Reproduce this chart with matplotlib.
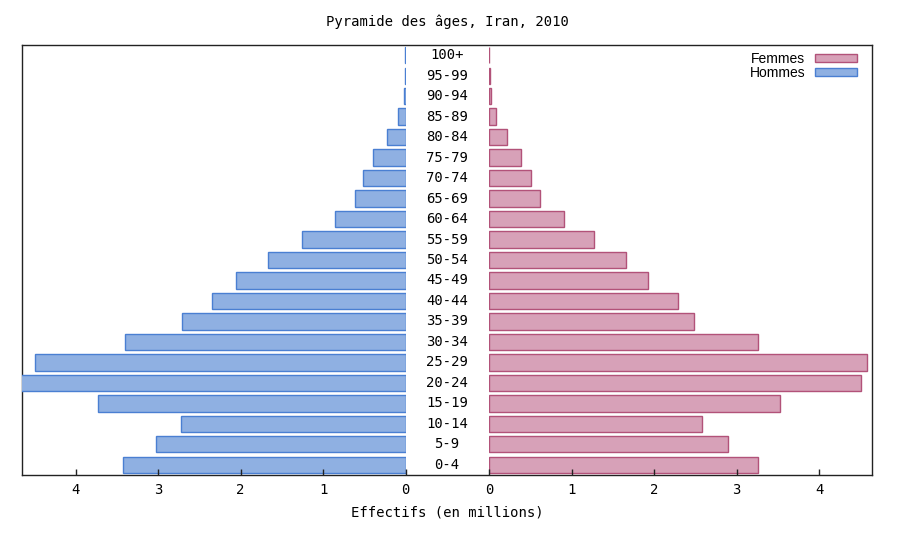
import matplotlib.pyplot as plt
import numpy as np

# Données : population par tranche d'âge (en millions)
ages = ["0-4", "5-9", "10-14", "15-19", "20-24", "25-29", "30-34", "35-39",
        "40-44", "45-49", "50-54", "55-59", "60-64", "65-69", "70-74",
        "75-79", "80-84", "85-89", "90-94", "95-99", "100+"]
hommes = [3.42, 3.02, 2.72, 3.73, 4.70, 4.49, 3.40, 2.71, 2.35, 2.05, 1.67,
          1.26, 0.85, 0.61, 0.51, 0.40, 0.23, 0.085, 0.015, 0.004, 0.001]
femmes = [3.26, 2.89, 2.58, 3.52, 4.51, 4.58, 3.26, 2.48, 2.29, 1.92, 1.66,
          1.27, 0.90, 0.62, 0.51, 0.38, 0.21, 0.085, 0.015, 0.005, 0.001]
ticks = [0, 1, 2, 3, 4]

bleu, bleu_bord = "#8fb0e2", "#4a7fd2"
rose, rose_bord = "#d7a1b8", "#b25279"
mono = "DejaVu Sans Mono"

fig = plt.figure(figsize=(9, 5.4), dpi=100)
W, H = 900, 540
bas = (H - 475) / H
haut = 430 / H

# cadre commun
cadre = fig.add_axes([22 / W, bas, 850 / W, haut])
cadre.set_xticks([])
cadre.set_yticks([])
cadre.set_xlim(0, 850)
cadre.set_ylim(-0.5, 20.5)
for s in cadre.spines.values():
    s.set_linewidth(1.0)
    s.set_color("#222222")

ax_h = fig.add_axes([22 / W, bas, 383.5 / W, haut])
ax_f = fig.add_axes([489.3 / W, bas, 382.7 / W, haut])

y = np.arange(len(ages))
ax_h.barh(y, hommes, height=0.8, color=bleu, edgecolor=bleu_bord, linewidth=1, label="Hommes")
ax_f.barh(y, femmes, height=0.8, color=rose, edgecolor=rose_bord, linewidth=1, label="Femmes")

ax_h.set_xlim(4.65, 0)
ax_f.set_xlim(0, 4.64)
for ax in (ax_h, ax_f):
    ax.set_ylim(-0.5, 20.5)
    ax.patch.set_visible(False)
    for s in ax.spines.values():
        s.set_visible(False)
    ax.set_yticks([])
    ax.set_xticks(ticks)
    ax.tick_params(axis="x", direction="in", length=4, width=1, color="#222222",
                   pad=6, labelsize=10)
    for lab in ax.get_xticklabels():
        lab.set_family(mono)

# étiquettes des âges au centre
for i, a in enumerate(ages):
    cadre.text(425, i, a, ha="center", va="center", fontsize=10, family=mono)

fig.text(447 / W, 1 - 22 / H, "Pyramide des âges, Iran, 2010", ha="center", va="center",
         fontsize=10, family=mono)
fig.text(447 / W, 1 - 513 / H, "Effectifs (en millions)", ha="center", va="center",
         fontsize=10, family=mono)

h1, l1 = ax_f.get_legend_handles_labels()
h2, l2 = ax_h.get_legend_handles_labels()
ax_f.legend(h1 + h2, l1 + l2, loc="upper right", frameon=False, markerfirst=False,
            prop={"family": "Liberation Sans", "size": 10}, handlelength=3.0,
            handleheight=0.5, labelspacing=0.0, borderaxespad=0.0,
            handletextpad=0.7, bbox_to_anchor=(0.975, 0.996))

plt.savefig("out.png", dpi=100)
